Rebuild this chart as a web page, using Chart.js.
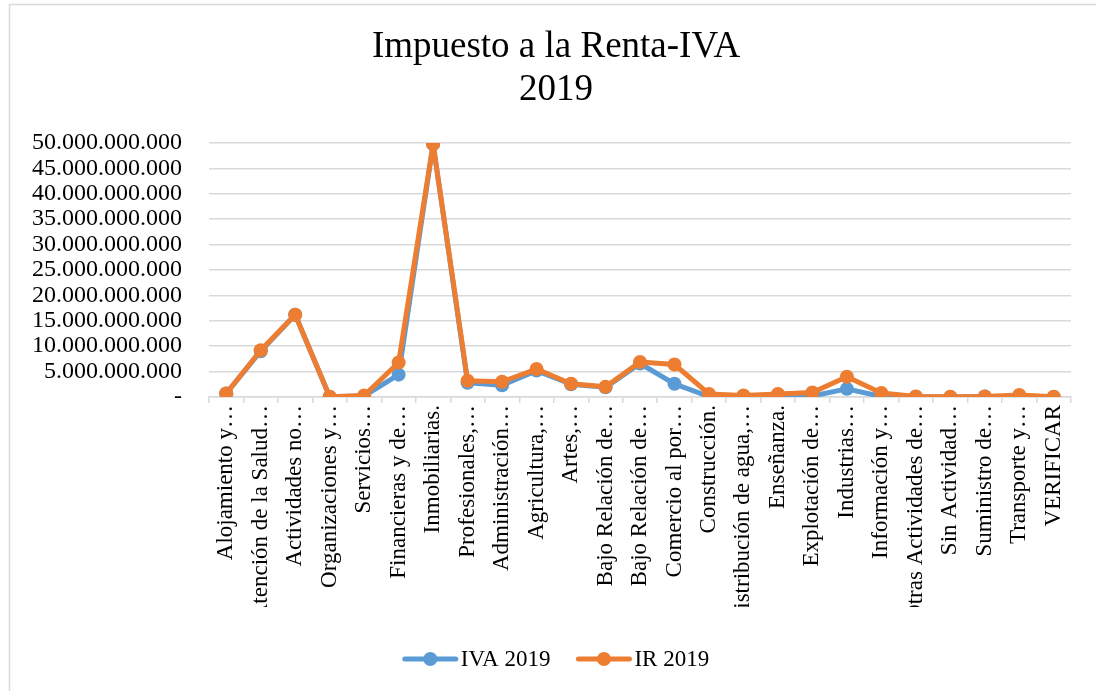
<!DOCTYPE html>
<html>
<head>
<meta charset="utf-8">
<script src="https://cdn.jsdelivr.net/npm/chart.js@4.4.0/dist/chart.umd.min.js"></script>
<style>
  html, body { margin: 0; padding: 0; background: #ffffff; }
  #wrap { width: 1096px; height: 691px; }
</style>
</head>
<body>
<div id="wrap"><canvas id="taxChart" width="1096" height="691"></canvas></div>
<script>
// Categorías (etiquetas truncadas como en el original)
const categories = [
	'Alojamiento y…', 'Atención de la Salud…', 'Actividades no…', 'Organizaciones y…',
	'Servicios…', 'Financieras y de…', 'Inmobiliarias.', 'Profesionales,…',
	'Administración…', 'Agricultura,…', 'Artes,…', 'Bajo Relación de…',
	'Bajo Relación de…', 'Comercio al por…', 'Construcción.', 'Distribución de agua,…',
	'Enseñanza.', 'Explotación de…', 'Industrias…', 'Información y…',
	'Otras Actividades de…', 'Sin Actividad…', 'Suministro de…', 'Transporte y…', 'VERIFICAR'
];

const iva2019 = [
	700000000, 9000000000, 16200000000, 50000000,
	200000000, 4400000000, 49800000000, 2800000000,
	2300000000, 5200000000, 2500000000, 1900000000,
	6600000000, 2600000000, 100000000, 200000000,
	400000000, 200000000, 1600000000, 100000000,
	50000000, 20000000, 100000000, 100000000, 20000000
];

const ir2019 = [
	700000000, 9200000000, 16200000000, 50000000,
	300000000, 6800000000, 49800000000, 3200000000,
	3000000000, 5500000000, 2600000000, 2000000000,
	6900000000, 6400000000, 600000000, 300000000,
	600000000, 900000000, 4000000000, 800000000,
	100000000, 50000000, 100000000, 400000000, 50000000
];

const yMax = 50000000000;
const yStep = 5000000000;

const titleLines = ['Impuesto a la Renta-IVA', '2019'];
const seriesNames = ['IVA 2019', 'IR 2019'];

const colors = {
	iva: '#5b9bd5',
	ir: '#ed7d31',
	grid: '#d9d9d9',
	text: '#000000'
};
const serif = '"Liberation Serif", "Times New Roman", "DejaVu Serif", serif';

function formatMiles(v) {
	if (v === 0) return '-';
	return String(Math.round(v)).replace(/\B(?=(\d{3})+(?!\d))/g, '.');
}

// Título, borde y leyenda dibujados a mano (estilo Excel)
const excelDecor = {
	id: 'excelDecor',
	afterDraw(chart) {
		const ctx = chart.ctx;
		ctx.save();
		// borde del gráfico
		ctx.strokeStyle = colors.grid;
		ctx.lineWidth = 1.5;
		ctx.strokeRect(9.5, 4.5, 1200, 1000);

		// título
		ctx.fillStyle = colors.text;
		ctx.font = '37px ' + serif;
		ctx.textAlign = 'center';
		ctx.textBaseline = 'alphabetic';
		ctx.fillText(titleLines[0], 556, 57);
		ctx.fillText(titleLines[1], 556, 100);

		// leyenda
		const items = [
			{ text: seriesNames[0], color: colors.iva },
			{ text: seriesNames[1], color: colors.ir }
		];
		ctx.font = '23px ' + serif;
		const lineLen = 55, gapText = 3, gapItems = 26;
		let total = 0;
		items.forEach((it, i) => {
			it.w = ctx.measureText(it.text).width;
			total += lineLen + gapText + it.w + (i ? gapItems : 0);
		});
		let x = 556 - total / 2;
		const y = 659;
		items.forEach((it) => {
			ctx.strokeStyle = it.color;
			ctx.lineWidth = 5;
			ctx.lineCap = 'round';
			ctx.beginPath();
			ctx.moveTo(x + 2, y);
			ctx.lineTo(x + lineLen - 2, y);
			ctx.stroke();
			ctx.fillStyle = it.color;
			ctx.beginPath();
			ctx.arc(x + lineLen / 2, y, 7, 0, Math.PI * 2);
			ctx.fill();
			ctx.fillStyle = colors.text;
			ctx.textAlign = 'left';
			ctx.textBaseline = 'middle';
			ctx.fillText(it.text, x + lineLen + gapText, y + 1);
			x += lineLen + gapText + it.w + gapItems;
		});
		ctx.restore();
	}
};

const ctx = document.getElementById('taxChart').getContext('2d');
const chart = new Chart(ctx, {
	type: 'line',
	data: {
		labels: categories,
		datasets: [
			{
				label: seriesNames[0],
				data: iva2019,
				borderColor: colors.iva,
				backgroundColor: colors.iva,
				borderWidth: 5,
				pointRadius: 7,
				pointBorderWidth: 0,
				pointBackgroundColor: colors.iva,
				borderJoinStyle: 'round',
				borderCapStyle: 'round',
				tension: 0,
				order: 1
			},
			{
				label: seriesNames[1],
				data: ir2019,
				borderColor: colors.ir,
				backgroundColor: colors.ir,
				borderWidth: 5,
				pointRadius: 7,
				pointBorderWidth: 0,
				pointBackgroundColor: colors.ir,
				borderJoinStyle: 'round',
				borderCapStyle: 'round',
				tension: 0,
				order: 0
			}
		]
	},
	options: {
		responsive: false,
		animation: false,
		layout: {
			padding: { left: 0, right: 25, top: 143, bottom: 84 }
		},
		plugins: {
			legend: { display: false },
			title: { display: false },
			tooltip: { enabled: false }
		},
		scales: {
			x: {
				offset: true,
				grid: {
					offset: true,
					drawOnChartArea: false,
					drawTicks: true,
					tickLength: 6,
					color: colors.grid,
					lineWidth: 1.5
				},
				border: { display: true, color: colors.grid, width: 1.5 },
				ticks: {
					autoSkip: false,
					minRotation: 90,
					maxRotation: 90,
					padding: 2,
					color: colors.text,
					font: { family: serif, size: 23 }
				},
				afterFit(scale) {
					scale.height = 210;
				}
			},
			y: {
				min: 0,
				max: yMax,
				grid: {
					color: colors.grid,
					lineWidth: 1.5,
					drawTicks: false
				},
				border: { display: false },
				ticks: {
					autoSkip: false,
					stepSize: yStep,
					padding: 27,
					color: colors.text,
					font: { family: serif, size: 24 },
					callback: (v) => formatMiles(v)
				},
				afterFit(scale) {
					scale.width = 209;
				}
			}
		}
	},
	plugins: [excelDecor]
});
</script>
</body>
</html>
